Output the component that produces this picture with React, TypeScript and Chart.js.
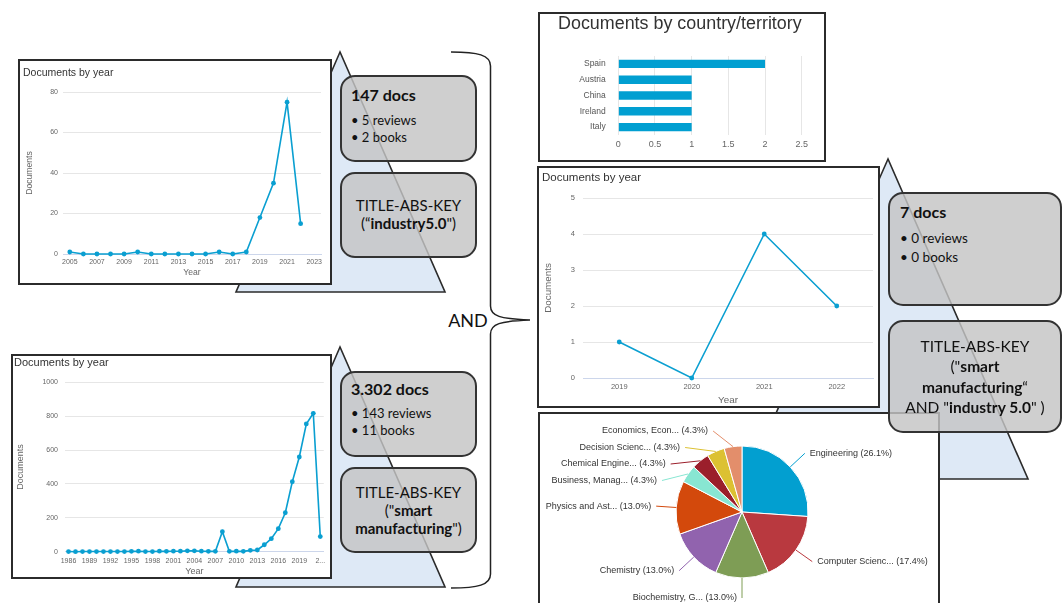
import React, { useEffect, useRef } from 'react';
import { Chart, registerables } from 'chart.js';
import type { ChartConfiguration, Plugin } from 'chart.js';

Chart.register(...registerables);

const FONT = '"Liberation Sans", Arial, sans-serif';
const NOTE_FONT = 'Lato, "Open Sans", sans-serif';
const BLUE = '#0a9fd1';

// TITLE-ABS-KEY("industry5.0") — documents per year
const i50Years = ['2005', '2006', '2007', '2008', '2009', '2010', '2011', '2012', '2013', '2014',
  '2015', '2016', '2017', '2018', '2019', '2020', '2021', '2022', '2023'];
const i50Docs = [1, 0, 0, 0, 0, 1, 0, 0, 0, 0, 0, 1, 0, 1, 18, 35, 75, 15];

// TITLE-ABS-KEY("smart manufacturing") — documents per year
const smYears = ['1986', '1987', '1988', '1989', '1990', '1991', '1992', '1993', '1994', '1995',
  '1996', '1997', '1998', '1999', '2000', '2001', '2002', '2003', '2004', '2005', '2006', '2007',
  '2008', '2009', '2010', '2011', '2012', '2013', '2014', '2015', '2016', '2017', '2018', '2019',
  '2020', '2021', '2022'];
const smDocs = [1, 0, 1, 1, 1, 1, 1, 1, 1, 2, 3, 1, 1, 3, 2, 3, 3, 5, 5, 3, 2, 2,
  118, 2, 3, 2, 8, 10, 41, 77, 136, 230, 413, 559, 754, 817, 89];

// both queries combined
const bothYears = ['2019', '2020', '2021', '2022'];
const bothDocs = [1, 0, 4, 2];

const countries = ['Spain', 'Austria', 'China', 'Ireland', 'Italy'];
const countryDocs = [2, 1, 1, 1, 1];

const subjectAreas = [
  'Engineering',
  'Computer Science',
  'Biochemistry, Genetics and Molecular Biology',
  'Chemistry',
  'Physics and Astronomy',
  'Business, Management and Accounting',
  'Chemical Engineering',
  'Decision Sciences',
  'Economics, Econometrics and Finance',
];
const subjectDocs = [6, 4, 3, 3, 3, 1, 1, 1, 1];
const subjectColors = ['#029fd0', '#b9393f', '#7e9d55', '#9163ae', '#d3490c', '#88e6d2', '#9b1f2b', '#dcc132', '#e38e6b'];

// plain numbers, no thousands separator or forced decimals
const plainTick = (v: any) => String(Number(v));

type LineLayout = {
  w: number; h: number;
  padLeft: number; padRight: number;
  titleSize: number; titleTop: number; titleBottom: number;
  yWidth: number; yTickPad: number; yTitlePad: number;
  xHeight: number; xTickPad: number; xTitlePad: number;
  tickSize: number; axisTitleSize: number;
  yMax: number; yStep: number;
};

function lineConfig(
  labels: string[],
  values: number[],
  L: LineLayout,
  fmt: (label: string, index: number, count: number) => string,
): ChartConfiguration {
  return {
    type: 'line',
    data: {
      labels,
      datasets: [{
        data: values,
        borderColor: BLUE,
        backgroundColor: BLUE,
        pointBackgroundColor: BLUE,
        pointBorderColor: BLUE,
        pointBorderWidth: 0,
        pointRadius: 2.4,
        borderWidth: 1.6,
        tension: 0,
        clip: false,
      }],
    },
    options: {
      responsive: false,
      animation: false,
      layout: { padding: { left: L.padLeft, right: L.padRight, top: 0, bottom: 0 } },
      plugins: {
        legend: { display: false },
        tooltip: { enabled: false },
        title: {
          display: true,
          text: 'Documents by year',
          align: 'start',
          color: '#333333',
          font: { family: FONT, size: L.titleSize, weight: 'normal' },
          padding: { top: L.titleTop, bottom: L.titleBottom },
        },
      },
      scales: {
        x: {
          type: 'category',
          offset: true,
          grid: { display: false, drawTicks: false },
          border: { display: true, color: '#ccd6eb', width: 1 },
          ticks: {
            autoSkip: false,
            maxRotation: 0,
            minRotation: 0,
            padding: L.xTickPad,
            color: '#666666',
            font: { family: FONT, size: L.tickSize },
            callback: function (this: any, value: any, index: number) {
              return fmt(this.getLabelForValue(value), index, labels.length);
            },
          },
          title: {
            display: true,
            text: 'Year',
            color: '#666666',
            font: { family: FONT, size: L.axisTitleSize },
            padding: { top: 0, bottom: L.xTitlePad },
          },
          afterFit: (s: any) => { s.height = L.xHeight; },
        },
        y: {
          min: 0,
          max: L.yMax,
          grid: { color: '#e6e6e6', drawTicks: false },
          border: { display: false },
          ticks: {
            stepSize: L.yStep,
            padding: L.yTickPad,
            color: '#666666',
            font: { family: FONT, size: L.tickSize },
            callback: plainTick,
          },
          title: {
            display: true,
            text: 'Documents',
            color: '#666666',
            font: { family: FONT, size: L.axisTitleSize },
            padding: { top: L.yTitlePad, bottom: 0 },
          },
          afterFit: (s: any) => { s.width = L.yWidth; },
        },
      },
    },
  } as ChartConfiguration;
}

const countryConfig = (): ChartConfiguration => ({
  type: 'bar',
  data: {
    labels: countries,
    datasets: [{
      data: countryDocs,
      backgroundColor: '#019fd1',
      barPercentage: 0.53,
      categoryPercentage: 1,
    }],
  },
  options: {
    indexAxis: 'y',
    responsive: false,
    animation: false,
    layout: { padding: { left: 18, right: 22.3, top: 0, bottom: 0 } },
    plugins: {
      legend: { display: false },
      tooltip: { enabled: false },
      title: {
        display: true,
        text: 'Documents by country/territory',
        align: 'start',
        color: '#333333',
        font: { family: FONT, size: 18, weight: 'normal', lineHeight: 1 },
        padding: { top: 0.7, bottom: 23.3 },
      },
    },
    scales: {
      x: {
        min: 0,
        max: 2.5,
        grid: { color: '#e6e6e6', drawTicks: false },
        border: { display: false },
        ticks: { stepSize: 0.5, padding: 4.6, color: '#666666', font: { family: FONT, size: 9 }, callback: plainTick },
        afterFit: (s: any) => { s.height = 25; },
      },
      y: {
        grid: { display: false, drawTicks: false },
        border: { display: false },
        ticks: { padding: 12.6, color: '#555555', font: { family: FONT, size: 8.5 } },
        afterFit: (s: any) => { s.width = 60.3; },
      },
    },
  },
} as ChartConfiguration);

// Outside labels with coloured connector lines for the subject-area pie
const pieLabels: Plugin = {
  id: 'pieLabels',
  afterDatasetsDraw(chart) {
    const ctx = chart.ctx;
    const meta = chart.getDatasetMeta(0);
    const values = chart.data.datasets[0].data as number[];
    const names = chart.data.labels as string[];
    const colors = chart.data.datasets[0].backgroundColor as string[];
    const total = values.reduce((a, b) => a + b, 0);
    const reach = 20;
    const gap = 16.5;
    const textGap = 5;

    const items = meta.data.map((el: any, i: number) => {
      const p = el.getProps(['x', 'y', 'startAngle', 'endAngle', 'outerRadius'], true);
      const mid = (p.startAngle + p.endAngle) / 2;
      const cos = Math.cos(mid);
      const sin = Math.sin(mid);
      const name = names[i].length > 15 ? names[i].slice(0, 15) + '...' : names[i];
      return {
        cx: p.x, cy: p.y, r: p.outerRadius,
        ex: p.x + cos * p.outerRadius,
        ey: p.y + sin * p.outerRadius,
        y: p.y + sin * (p.outerRadius + reach),
        left: cos < 1e-6,
        text: `${name} (${((values[i] / total) * 100).toFixed(1)}%)`,
        color: colors[i],
      };
    });

    [true, false].forEach((side) => {
      const list = items.filter((it) => it.left === side).sort((a, b) => a.y - b.y);
      let prev = -Infinity;
      list.forEach((it) => {
        const topLimit = it.cy - it.r - 15;
        it.y = Math.max(it.y, prev + gap, topLimit);
        prev = it.y;
      });
    });

    ctx.save();
    ctx.font = `9px ${FONT}`;
    ctx.textBaseline = 'middle';
    items.forEach((it) => {
      const R = it.r + reach;
      const dy = it.y - it.cy;
      const dx = Math.sqrt(Math.max(0, R * R - dy * dy));
      const lx = it.cx + (it.left ? -dx : dx);
      ctx.strokeStyle = it.color;
      ctx.lineWidth = 1;
      ctx.beginPath();
      ctx.moveTo(it.ex, it.ey);
      ctx.lineTo(lx, it.y);
      ctx.stroke();
      ctx.fillStyle = '#333333';
      ctx.textAlign = it.left ? 'right' : 'left';
      ctx.fillText(it.text, lx + (it.left ? -textGap : textGap), it.y);
    });
    ctx.restore();
  },
};

const subjectConfig = (): ChartConfiguration => ({
  type: 'pie',
  data: {
    labels: subjectAreas,
    datasets: [{
      data: subjectDocs,
      backgroundColor: subjectColors,
      borderColor: '#ffffff',
      borderWidth: 1,
      radius: 66,
    } as any],
  },
  options: {
    responsive: false,
    animation: false,
    layout: { padding: { left: 136, right: 130, top: 32, bottom: 25 } },
    plugins: { legend: { display: false }, tooltip: { enabled: false } },
  },
  plugins: [pieLabels],
} as ChartConfiguration);

function ChartCanvas({ width, height, make }: { width: number; height: number; make: () => ChartConfiguration }) {
  const ref = useRef<HTMLCanvasElement>(null);
  useEffect(() => {
    const chart = new Chart(ref.current as HTMLCanvasElement, make());
    return () => chart.destroy();
  }, []);
  return (
    <canvas
      ref={ref}
      width={width}
      height={height}
      style={{ position: 'absolute', left: 0, top: 0, width, height }}
    />
  );
}

function Panel({ left, top, width, height, children }: any) {
  return (
    <div style={{
      position: 'absolute', left, top, width, height, boxSizing: 'border-box',
      border: '2px solid #2b2b2b', background: '#ffffff',
    }}>
      {children}
    </div>
  );
}

function Note({ left, top, width, height, children, style }: any) {
  return (
    <div style={{
      position: 'absolute', left, top, width, height, boxSizing: 'border-box',
      border: '2px solid #333333', borderRadius: 15,
      background: 'rgba(196,196,196,0.82)',
      fontFamily: NOTE_FONT, color: '#111111',
      ...style,
    }}>
      {children}
    </div>
  );
}

const centered = {
  display: 'flex', flexDirection: 'column', justifyContent: 'center', alignItems: 'center', textAlign: 'center',
};

export default function App() {
  return (
    <div style={{ position: 'fixed', left: 0, top: 0, width: 1063, height: 603, overflow: 'hidden', background: '#ffffff' }}>
      <svg width={1063} height={603} style={{ position: 'absolute', left: 0, top: 0 }}>
        <polygon points="340,52 236,292 445,292" fill="#dee9f6" stroke="#2b2b2b" strokeWidth={1.6} />
        <polygon points="340,347 236,587 445,587" fill="#dee9f6" stroke="#2b2b2b" strokeWidth={1.6} />
        <polygon points="888,159 747,479 1028,479" fill="#dee9f6" stroke="#2b2b2b" strokeWidth={1.6} />
        <path
          d="M451,52 C478,52 490.5,55 490.5,66 L490.5,306 C490.5,316 500,319 530,320 C500,321 490.5,324 490.5,334 L490.5,574 C490.5,585 478,588 451,588"
          fill="none" stroke="#222222" strokeWidth={1.5}
        />
      </svg>

      <Panel left={18} top={59} width={314} height={226}>
        <ChartCanvas width={310} height={222} make={() => lineConfig(i50Years, i50Docs, {
          w: 310, h: 222, padLeft: 3, padRight: 9,
          titleSize: 10.5, titleTop: 5.7, titleBottom: 12.7,
          yWidth: 40, yTickPad: 5, yTitlePad: 1.9,
          xHeight: 29, xTickPad: 3.8, xTitlePad: 4.9,
          tickSize: 7, axisTitleSize: 8.6, yMax: 80, yStep: 20,
        }, (label, i) => (i % 2 === 0 ? label : ''))} />
      </Panel>

      <Panel left={11} top={354} width={321} height={225}>
        <ChartCanvas width={317} height={221} make={() => lineConfig(smYears, smDocs, {
          w: 317, h: 221, padLeft: 1, padRight: 3,
          titleSize: 11, titleTop: 0.4, titleBottom: 12.7,
          yWidth: 51, yTickPad: 7, yTitlePad: 1.6,
          xHeight: 25.3, xTickPad: 4.8, xTitlePad: 0,
          tickSize: 7, axisTitleSize: 9, yMax: 1000, yStep: 200,
        }, (label, i, n) => (i % 3 !== 0 ? '' : i === n - 1 ? label.slice(0, 1) + '...' : label))} />
      </Panel>

      <Panel left={538} top={12} width={288} height={150}>
        <ChartCanvas width={284} height={146} make={countryConfig} />
      </Panel>

      <Panel left={537} top={166} width={343} height={242}>
        <ChartCanvas width={339} height={238} make={() => lineConfig(bothYears, bothDocs, {
          w: 339, h: 238, padLeft: 3, padRight: 5,
          titleSize: 11.5, titleTop: 3.1, titleBottom: 13.1,
          yWidth: 41, yTickPad: 8, yTitlePad: 0.2,
          xHeight: 28, xTickPad: 4.5, xTitlePad: 0.2,
          tickSize: 7.5, axisTitleSize: 9.8, yMax: 5, yStep: 1,
        }, (label) => label)} />
      </Panel>

      <Panel left={538} top={412} width={402} height={200}>
        <ChartCanvas width={398} height={189} make={subjectConfig} />
      </Panel>

      {/* industry 5.0 notes */}
      <Note left={340} top={75} width={137} height={87} style={{ paddingLeft: 9, paddingTop: 8 }}>
        <div style={{ fontSize: 16, fontWeight: 700, lineHeight: '20px' }}>147 docs</div>
        <div style={{ fontSize: 13, lineHeight: '17px', marginTop: 6.5 }}>• 5 reviews</div>
        <div style={{ fontSize: 13, lineHeight: '17px' }}>• 2 books</div>
      </Note>
      <Note left={340} top={172} width={137} height={86} style={{ ...centered, fontSize: 15, lineHeight: '18px', paddingBottom: 2 }}>
        <div>TITLE-ABS-KEY</div>
        <div>(“<b>industry5.0</b>")</div>
      </Note>

      {/* smart manufacturing notes */}
      <Note left={340} top={371} width={137} height={86} style={{ paddingLeft: 9, paddingTop: 5.5 }}>
        <div style={{ fontSize: 16, fontWeight: 700, lineHeight: '20px' }}>3.302 docs</div>
        <div style={{ fontSize: 13, lineHeight: '17px', marginTop: 6 }}>• 143 reviews</div>
        <div style={{ fontSize: 13, lineHeight: '17px' }}>• 11 books</div>
      </Note>
      <Note left={340} top={467} width={137} height={86} style={{ ...centered, fontSize: 15, lineHeight: '18px' }}>
        <div>TITLE-ABS-KEY</div>
        <div>("<b>smart</b></div>
        <div><b>manufacturing</b>")</div>
      </Note>

      {/* combined query notes */}
      <Note left={888} top={192} width={174} height={114} style={{ paddingLeft: 10, paddingTop: 8 }}>
        <div style={{ fontSize: 16, fontWeight: 700, lineHeight: '20px' }}>7 docs</div>
        <div style={{ fontSize: 13.5, lineHeight: '19px', marginTop: 6.5 }}>• 0 reviews</div>
        <div style={{ fontSize: 13.5, lineHeight: '19px' }}>• 0 books</div>
      </Note>
      <Note left={888} top={320} width={174} height={113} style={{ ...centered, fontSize: 15.5, lineHeight: '20.3px' }}>
        <div>TITLE-ABS-KEY</div>
        <div>("<b>smart</b></div>
        <div><b>manufacturing</b>“</div>
        <div>AND "<b>industry 5.0</b>" )</div>
      </Note>

      <div style={{
        position: 'absolute', left: 446, top: 309, width: 44, textAlign: 'center',
        fontFamily: NOTE_FONT, fontSize: 18, lineHeight: '22px', color: '#111111',
      }}>AND</div>
    </div>
  );
}
